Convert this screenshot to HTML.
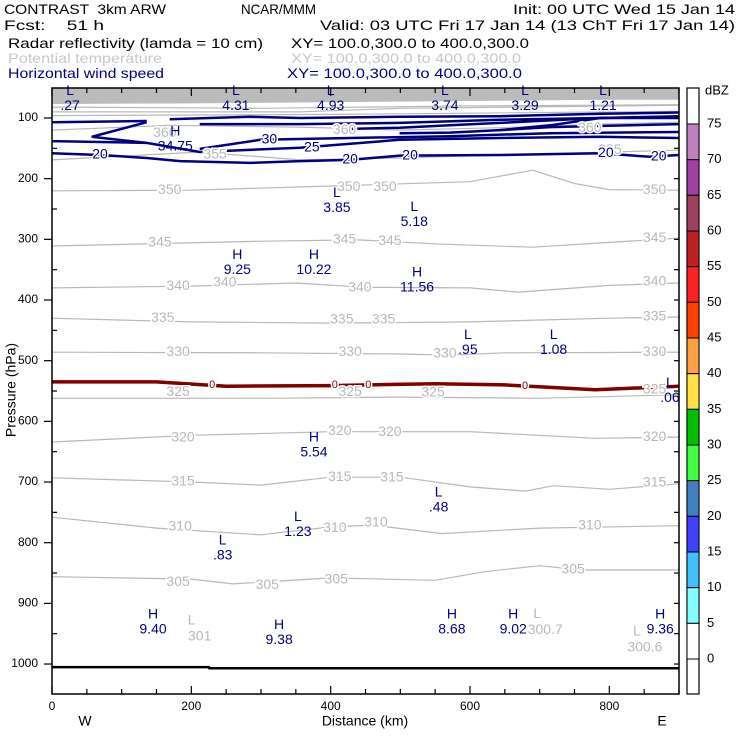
<!DOCTYPE html>
<html><head><meta charset="utf-8"><style>
body{margin:0;background:#fff}
svg{display:block;font-family:"Liberation Sans",sans-serif}
</style></head><body>
<svg id="c" width="740" height="740" viewBox="0 0 740 740">
<defs><clipPath id="clip"><rect x="52" y="88" width="627" height="606"/></clipPath></defs>
<g font-size="14">
<text x="4" y="14" textLength="162" lengthAdjust="spacingAndGlyphs" xml:space="preserve">CONTRAST  3km ARW</text>
<text x="241" y="14" textLength="75" lengthAdjust="spacingAndGlyphs">NCAR/MMM</text>
<text x="513" y="14" textLength="222" lengthAdjust="spacingAndGlyphs">Init: 00 UTC Wed 15 Jan 14</text>
<text x="4" y="30" textLength="100" lengthAdjust="spacingAndGlyphs" xml:space="preserve">Fcst:    51 h</text>
<text x="320" y="30" textLength="415" lengthAdjust="spacingAndGlyphs">Valid: 03 UTC Fri 17 Jan 14 (13 ChT Fri 17 Jan 14)</text>
<text x="8" y="48" textLength="255" lengthAdjust="spacingAndGlyphs">Radar reflectivity (lamda = 10 cm)</text>
<text x="291" y="48" textLength="238" lengthAdjust="spacingAndGlyphs">XY= 100.0,300.0 to 400.0,300.0</text>
<text x="8" y="63" fill="#c8c8c8" textLength="154" lengthAdjust="spacingAndGlyphs">Potential temperature</text>
<text x="291" y="63" fill="#c8c8c8" textLength="230" lengthAdjust="spacingAndGlyphs">XY= 100.0,300.0 to 400.0,300.0</text>
<text x="8" y="78" fill="#000080" textLength="156" lengthAdjust="spacingAndGlyphs">Horizontal wind speed</text>
<text x="287" y="78" fill="#000080" textLength="235" lengthAdjust="spacingAndGlyphs">XY= 100.0,300.0 to 400.0,300.0</text>
</g>
<g id="plot" clip-path="url(#clip)"></g>
<g id="ann"></g>
<g id="axes"></g>
<g id="cbar"></g>
</svg>
<script>
// ---- data ----
const topBandKm=[0,200,400,600,800,900];
const topBandP=[77,76,74,72,70,70];
const thetaLevels=[380,375,370,360,355,350,345,340,335,330,325,320,315,310,305];
const thetaKm=[
[0,300,600,900],
[0,400,900],
[0,356,499,900],
[0,169,356,499,643,787,900],
[0,212,356,499,643,900],
[0,200,400,600,690,750,800,900],
[0,300,440,560,690,800,900],
[0,200,350,450,600,670,800,900],
[0,200,400,600,800,900],
[0,300,500,570,650,900],
[0,300,500,700,900],
[0,200,400,600,780,900],
[0,200,300,400,500,600,680,720,800,900],
[0,150,300,400,460,560,700,900],
[0,200,260,400,550,620,700,760,900]];
const thetaP=[
[82,84,80,78],
[96,94,89],
[90,90,84,79],
[120,112,115,120,116,110,107],
[169,156,169,166,161,153],
[220,219,212,205,186,208,218,219],
[311,303,301,308,313,305,298],
[380,377,372,379,380,387,376,372],
[430,436,438,436,430,428],
[486,487,489,491,487,486],
[562,562,560,562,556],
[634,623,617,617,628,626],
[693,700,705,692,692,708,715,706,712,703],
[758,776,787,774,771,785,776,772],
[856,860,868,858,862,848,838,845,845]];
const thetaLabelVal=[350,350,350,350,345,345,345,345,340,340,340,340,335,335,335,335,330,330,330,330,325,325,325,325,320,320,320,320,315,315,315,315,310,310,310,310,305,305,305,305,355,355,360,360,360];
const thetaLabelKm=[169,426,478,865,155,420,485,865,181,248,442,865,159,416,476,865,181,428,564,865,181,428,547,865,188,413,485,865,188,413,488,865,184,406,465,772,181,309,408,748,234,801,162,420,772];
const thetaLabelP=[219,214,214,219,306,301,303,298,377,372,380,370,430,433,433,428,486,486,489,486,552,552,553,548,627,616,618,626,700,692,693,701,774,776,767,772,865,870,861,845,161,153,125,120,117];
const windKm=[
[0,69,136,184,284,356,428,499,643,787,858,900],
[0,136,212,356,499,643,787,900],
[212,299,428,571,715,900],
[136,57,136],
[0,136],
[169,284,356,499,643,787,900],
[212,356,499,643,787,900],
[643,715,787,900],
[428,499,571,643,715,787,900],
[499,571,643,715,900]];
const windP=[
[158,161,166,171,174,171,169,162,161,158,164,161],
[138,141,156,149,136,133,131,133],
[151,136,133,130,125,123],
[107,131,141],
[107,105],
[102,98,100,98,97,93,91],
[110,110,108,103,100,97],
[120,112,100,100],
[118,116,112,108,104,100,98],
[125,124,120,115,110]];
const windLabelVal=["20","20","20","20","20","25","30"];
const windLabelKm=[69,428,514,795,871,373,312];
const windLabelP=[161,169,162,158,164,149,136];
const dbzKm=[0,150,250,400,550,650,780,900];
const dbzP=[535,535,542,541,538,540,548,542];
const dbzLabelKm=[230,406,454,679];
const dbzLabelP=[540,540,540,542];
const groundKm=[0,225,226,900];
const groundP=[1005,1005,1007,1007];
const extType=["L","L","L","L","L","L","H","L","L","H","H","H","L","L","L","H","L","L","L","H","H","H","H","H"];
const extVal=[".27","4.31","4.93","3.74","3.29","1.21","34.75","3.85","5.18","9.25","10.22","11.56",".95","1.08",".06","5.54",".48","1.23",".83","9.40","9.38","8.68","9.02","9.36"];
const extKm=[26,264,400,564,679,791,177,409,520,266,376,524,597,720,887,376,555,353,245,145,326,574,662,873];
const extP=[56,56,56,56,56,56,123,224,247,326,326,355,458,458,537,627,718,758,797,919,936,919,919,919];
const minTVal=["301","300.7","300.6"];
const minTKm=[212,708,851];
const minTP=[955,944,973];
const pTicks=[100,200,300,400,500,600,700,800,900,1000];
const kmTicks=[0,200,400,600,800];
const cbLevels=[75,70,65,60,55,50,45,40,35,30,25,20,15,10,5,0];
const cbColors=["#c080c0","#a040a0","#a04060","#c02020","#ff2020","#ff4000","#ffa040","#ffe040","#00c000","#40ff40","#4080c0","#4040ff","#40c0ff","#80ffff","#ffffff"];
// ---- scales ----
const X0=52,X1=679,Y0=88,Y1=694;
const X=km=>X0+km*(X1-X0)/900;
const Y=p=>118+(p-100)*0.6067;
const NS="http://www.w3.org/2000/svg";
function mk(tag,parent,attrs){const e=document.createElementNS(NS,tag);for(const k in attrs)e.setAttribute(k,attrs[k]);parent.appendChild(e);return e;}
const plot=document.getElementById('plot'),ann=document.getElementById('ann'),axes=document.getElementById('axes'),cb=document.getElementById('cbar');
function pts(ks,ps){return ks.map((k,i)=>X(k).toFixed(1)+','+Y(ps[i]).toFixed(1)).join(' ');}
let band=mk('polygon',plot,{points:X(0)+','+Y0+' '+pts(topBandKm,topBandP)+' '+X(900)+','+Y0,fill:'#bbbbbb'});


thetaLevels.forEach((lv,i)=>{const l=mk('polyline',plot,{points:pts(thetaKm[i],thetaP[i]),fill:'none',stroke:'#b8b8b8','stroke-width':1.2});

});
const dz=mk('polyline',plot,{points:pts(dbzKm,dbzP),fill:'none',stroke:'#800000','stroke-width':3.5});


windKm.forEach((ks,i)=>{const l=mk('polyline',plot,{points:pts(ks,windP[i]),fill:'none',stroke:'#000080','stroke-width':2.5});

});
const gl=mk('polyline',plot,{points:pts(groundKm,groundP),fill:'none',stroke:'#000','stroke-width':2.5});


function label(parent,txt,x,y,fill,size){const t=mk('text',parent,{x:x,y:y,fill:fill,'font-size':size,'text-anchor':'middle','dominant-baseline':'middle',stroke:'#fff','stroke-width':3,'paint-order':'stroke'});t.textContent=txt;return t;}
thetaLabelVal.forEach((v,i)=>{const t=label(ann,v,X(thetaLabelKm[i]),Y(thetaLabelP[i]),'#b8b8b8',14);

});
windLabelVal.forEach((v,i)=>{const t=label(ann,v,X(windLabelKm[i]),Y(windLabelP[i]),'#000080',14);

});
dbzLabelKm.forEach((k,i)=>{const t=label(ann,'0',X(k),Y(dbzLabelP[i]),'#800000',11);

});
extType.forEach((tp,i)=>{const x=X(extKm[i]),y=Y(extP[i]);
const a=mk('text',ann,{x:x,y:y,fill:'#000080','font-size':14,'text-anchor':'middle','dominant-baseline':'middle'});a.textContent=tp;


const b=mk('text',ann,{x:x,y:y+15,fill:'#000080','font-size':14,'text-anchor':'middle','dominant-baseline':'middle'});b.textContent=extVal[i];

});
minTVal.forEach((v,i)=>{const x=X(minTKm[i]),y=Y(minTP[i]);
const a=mk('text',ann,{x:x-8,y:y-16,fill:'#b8b8b8','font-size':14,'text-anchor':'middle','dominant-baseline':'middle'});a.textContent='L';


const b=mk('text',ann,{x:x,y:y,fill:'#b8b8b8','font-size':14,'text-anchor':'middle','dominant-baseline':'middle'});b.textContent=v;

});
const fr=mk('rect',axes,{x:X0,y:Y0,width:X1-X0,height:Y1-Y0,fill:'none',stroke:'#000','stroke-width':1.5});


for(let p=50;p<=1050;p+=50){const y=Y(p);if(y<Y0||y>Y1)continue;const maj=p%100===0;
mk('line',axes,{x1:maj?X0-8:X0,x2:maj?X0:X0+5,y1:y,y2:y,stroke:'#000','stroke-width':1.2});
mk('line',axes,{x1:X1-5,x2:X1,y1:y,y2:y,stroke:'#000','stroke-width':1.2});}
for(let k=0;k<=900;k+=50){const x=X(k),maj=k%200===0;
mk('line',axes,{x1:x,x2:x,y1:Y1,y2:Y1-(maj?8:5),stroke:'#000','stroke-width':1.2});
mk('line',axes,{x1:x,x2:x,y1:Y0,y2:Y0+(maj?8:5),stroke:'#000','stroke-width':1.2});}
pTicks.forEach(p=>{const t=mk('text',axes,{x:38,y:Y(p),'font-size':12,'text-anchor':'end','dominant-baseline':'middle'});t.textContent=p;

});
kmTicks.forEach(k=>{const t=mk('text',axes,{x:X(k),y:707,'font-size':12,'text-anchor':'middle','dominant-baseline':'middle'});t.textContent=k;

});
let t=mk('text',axes,{x:365,y:722,'font-size':14,'text-anchor':'middle','dominant-baseline':'middle'});t.textContent='Distance (km)';


t=mk('text',axes,{x:85,y:722,'font-size':14,'text-anchor':'middle','dominant-baseline':'middle'});t.textContent='W';


t=mk('text',axes,{x:662,y:722,'font-size':14,'text-anchor':'middle','dominant-baseline':'middle'});t.textContent='E';


t=mk('text',axes,{x:12,y:390,'font-size':14,'text-anchor':'middle','dominant-baseline':'middle',transform:'rotate(-90 12 390)'});t.textContent='Pressure (hPa)';


const cbX=687,cbW=12,cbTop=124,cbStep=(659-124)/15;
const cbFrame=mk('rect',cb,{x:cbX,y:88,width:cbW,height:606,fill:'#fff',stroke:'#000','stroke-width':1.2});


cbColors.forEach((c,i)=>{const r=mk('rect',cb,{x:cbX,y:cbTop+i*cbStep,width:cbW,height:cbStep,fill:c,stroke:'#000','stroke-width':1});

});
cbLevels.forEach((v,i)=>{const tt=mk('text',cb,{x:707,y:cbTop+i*cbStep,'font-size':13,'dominant-baseline':'middle'});tt.textContent=v;

});
t=mk('text',cb,{x:705,y:91,'font-size':13,'dominant-baseline':'middle'});t.textContent='dBZ';


</script>
</body></html>
